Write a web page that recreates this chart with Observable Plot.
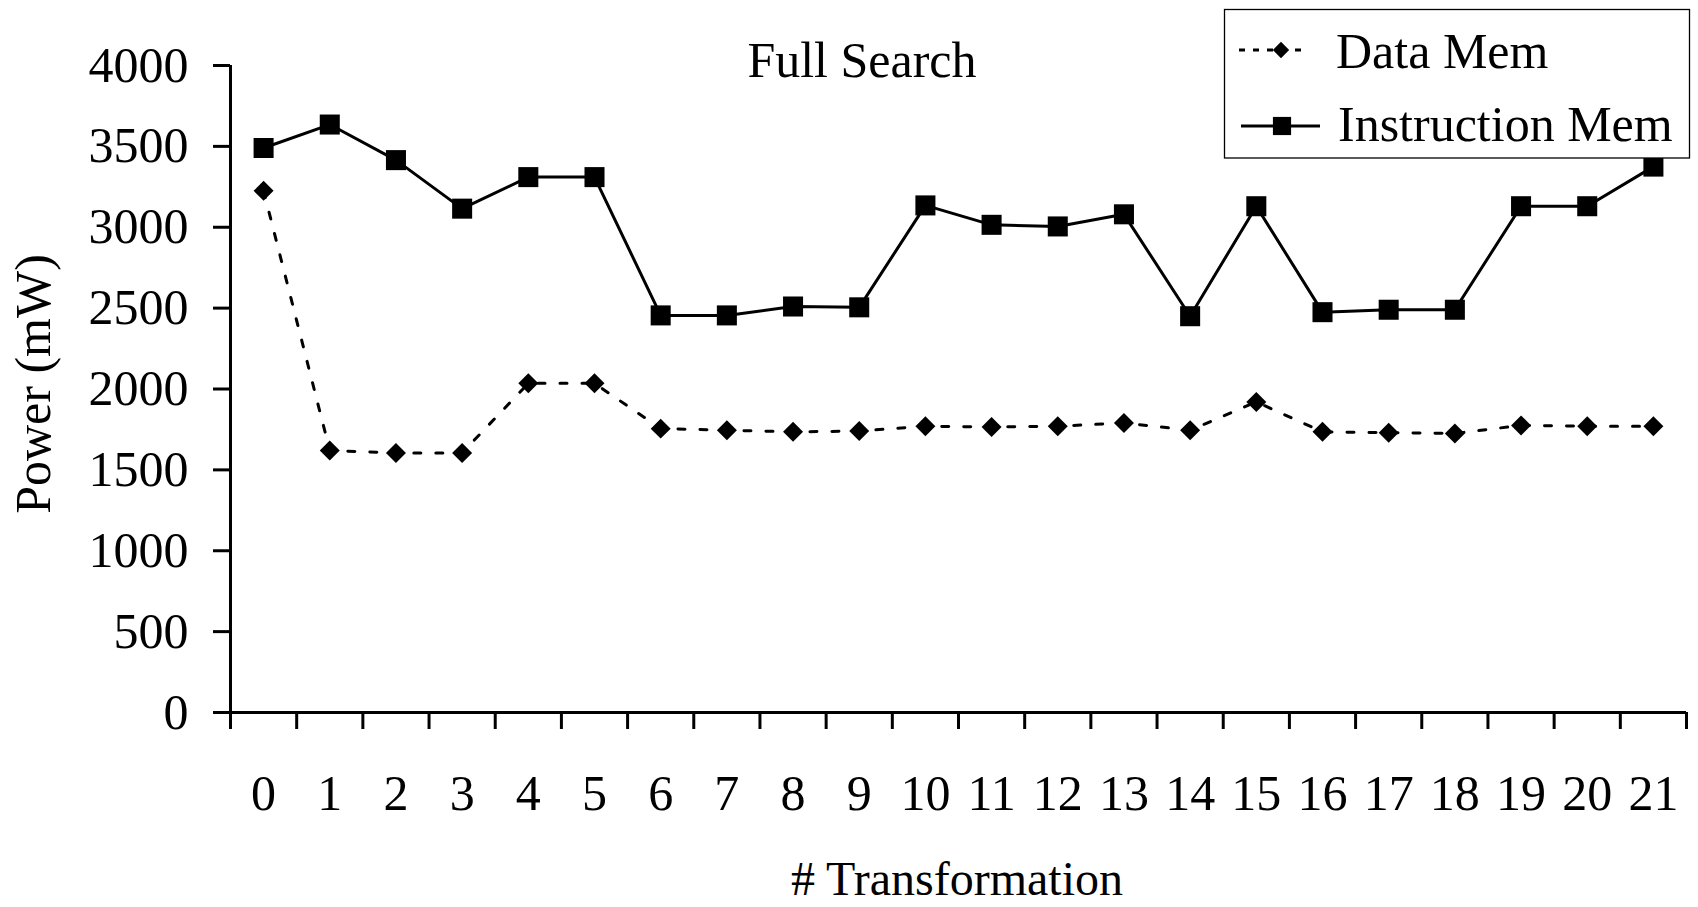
<!DOCTYPE html>
<html>
<head>
<meta charset="utf-8">
<script src="https://cdn.jsdelivr.net/npm/d3@7"></script>
<script src="https://cdn.jsdelivr.net/npm/@observablehq/plot@0.6"></script>
<style>
  html, body { margin: 0; padding: 0; background: #fff; overflow: hidden; }
  #wrap { position: relative; width: 1698px; height: 907px; }
  #wrap svg { position: absolute; left: 0; top: 0; }
</style>
</head>
<body>
<div id="wrap"></div>
<script>
// ---- data ----
const transformations = d3.range(0, 22);           // categories 0..21
const dataMem = [3225, 1620, 1605, 1605, 2035, 2035, 1755, 1745, 1735, 1740, 1770,
                 1765, 1770, 1790, 1745, 1920, 1735, 1730, 1725, 1775, 1770, 1770];
const instructionMem = [3490, 3635, 3415, 3115, 3310, 3310, 2455, 2455, 2510, 2505, 3135,
                        3015, 3005, 3080, 2450, 3130, 2475, 2490, 2490, 3130, 3130, 3375];
const yTicks = [0, 500, 1000, 1500, 2000, 2500, 3000, 3500, 4000];
const seriesNames = ["Data Mem", "Instruction Mem"];
const chartTitle = "Full Search";
const xTitle = "# Transformation";
const yTitle = "Power (mW)";

const rows = transformations.map((t, i) => ({t, data: dataMem[i], instr: instructionMem[i]}));
const boundaries = d3.range(0, transformations.length + 1).map(d => d - 0.5);

const FONT = "'Liberation Serif', 'Times New Roman', Times, serif";

const chart = Plot.plot({
  width: 1698,
  height: 907,
  marginLeft: 230,
  marginRight: 12,
  marginTop: 65,
  marginBottom: 195,
  style: {fontFamily: FONT, fontSize: "50px", color: "#000", background: "transparent", overflow: "visible"},
  x: {type: "linear", domain: [-0.5, transformations.length - 0.5]},
  y: {type: "linear", domain: [0, 4000]},
  marks: [
    Plot.axisY({ticks: yTicks, tickSize: 17, tickPadding: 25, strokeWidth: 3, label: null, fontSize: 50, tickFormat: d => String(d)}),
    Plot.axisX({ticks: boundaries, tickSize: 17, strokeWidth: 3, fill: "none", label: null}),
    Plot.axisX({ticks: transformations, tickSize: 0, tickPadding: 61.5, label: null, fontSize: 50, tickFormat: d => String(d)}),
    Plot.ruleX([-0.5], {stroke: "#000", strokeWidth: 3}),
    Plot.ruleY([0], {stroke: "#000", strokeWidth: 3}),
    Plot.line(rows, {x: "t", y: "data", stroke: "#000", strokeWidth: 3, strokeDasharray: "7,15"}),
    Plot.dot(rows, {x: "t", y: "data", symbol: "diamond2", r: 9, fill: "#000", stroke: "none"}),
    Plot.line(rows, {x: "t", y: "instr", stroke: "#000", strokeWidth: 3}),
    Plot.dot(rows, {x: "t", y: "instr", symbol: "square", r: 11.3, fill: "#000", stroke: "none"})
  ]
});
document.getElementById("wrap").appendChild(chart);

// ---- overlay: title, axis titles, legend ----
const ns = "http://www.w3.org/2000/svg";
const ov = d3.select("#wrap").append("svg")
  .attr("xmlns", ns)
  .attr("width", 1698).attr("height", 907)
  .style("font-family", FONT)
  .style("pointer-events", "none");

ov.append("text").attr("x", 862).attr("y", 77).attr("text-anchor", "middle")
  .attr("font-size", 50).attr("fill", "#000").text(chartTitle);

ov.append("text").attr("x", 957).attr("y", 895).attr("text-anchor", "middle")
  .attr("font-size", 48).attr("fill", "#000").text(xTitle);

ov.append("text").attr("transform", "translate(50,384) rotate(-90)").attr("text-anchor", "middle")
  .attr("font-size", 50).attr("fill", "#000").text(yTitle);

const lg = ov.append("g");
lg.append("rect").attr("x", 1224.5).attr("y", 9.5).attr("width", 465).attr("height", 148.5)
  .attr("fill", "#fff").attr("stroke", "#000").attr("stroke-width", 1.3);
// Data Mem entry
lg.append("line").attr("x1", 1239).attr("x2", 1308).attr("y1", 50).attr("y2", 50)
  .attr("stroke", "#000").attr("stroke-width", 3).attr("stroke-dasharray", "6,8");
lg.append("path").attr("d", d3.symbol(d3.symbolDiamond2, 170)()).attr("transform", "translate(1281,50)").attr("fill", "#000");
lg.append("text").attr("x", 1336).attr("y", 68).attr("font-size", 50).attr("fill", "#000").text(seriesNames[0]);
// Instruction Mem entry
lg.append("line").attr("x1", 1241).attr("x2", 1320).attr("y1", 126).attr("y2", 126)
  .attr("stroke", "#000").attr("stroke-width", 3);
lg.append("path").attr("d", d3.symbol(d3.symbolSquare, 330)()).attr("transform", "translate(1282,126)").attr("fill", "#000");
lg.append("text").attr("x", 1338).attr("y", 141).attr("font-size", 50).attr("fill", "#000").text(seriesNames[1]);
</script>
</body>
</html>
